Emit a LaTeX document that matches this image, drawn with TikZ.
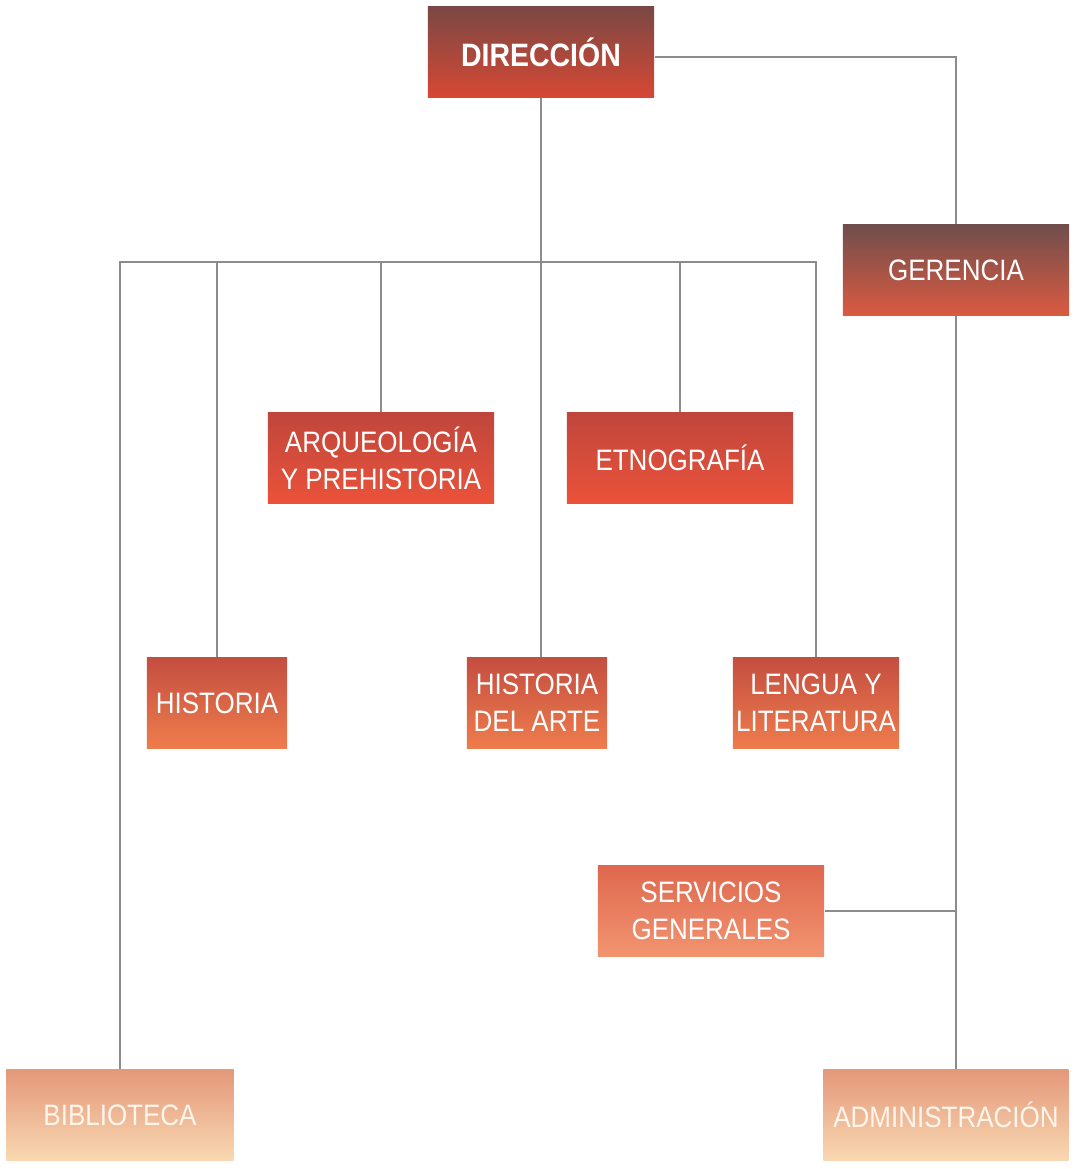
\documentclass[tikz,border=0pt]{standalone}
\usepackage{fontspec}
\setmainfont{Liberation Sans}[FakeStretch=0.88]
\usetikzlibrary{positioning}
\definecolor{dirtop}{RGB}{122,72,68}
\definecolor{dirbot}{RGB}{214,72,52}
\definecolor{gertop}{RGB}{112,78,76}
\definecolor{gerbot}{RGB}{218,90,66}
\definecolor{deptop}{RGB}{192,70,60}
\definecolor{depbot}{RGB}{234,82,58}
\definecolor{areatop}{RGB}{196,78,64}
\definecolor{areabot}{RGB}{238,124,76}
\definecolor{servtop}{RGB}{222,104,78}
\definecolor{servbot}{RGB}{242,148,112}
\definecolor{basetop}{RGB}{228,152,122}
\definecolor{basebot}{RGB}{248,216,178}
\definecolor{linkgray}{RGB}{140,140,140}
\tikzset{
  unit/.style={rectangle, inner sep=0pt, align=center, text=white,
    minimum height=0.9cm, font=\fontsize{8.4}{10.6}\selectfont},
  link/.style={draw=linkgray, line width=0.35pt}
}
\begin{document}
\begin{tikzpicture}[x=0.01cm, y=-0.01cm]
  \useasboundingbox (0,0) rectangle (1089,1169);
  % Top: direction and management
  \node[unit, minimum width=2.26cm, top color=dirtop, bottom color=dirbot,
    font=\fontsize{9.2}{11}\selectfont\bfseries] (dir) at (541,52) {DIRECCIÓN};
  \node[unit, minimum width=2.26cm, top color=gertop, bottom color=gerbot] (ger) at (956,270) {GERENCIA};
  % Departments
  \node[unit, minimum width=2.26cm, top color=deptop, bottom color=depbot] (arq) at (381,458) {ARQUEOLOGÍA\\Y PREHISTORIA};
  \node[unit, minimum width=2.26cm, top color=deptop, bottom color=depbot] (etn) at (680,458) {ETNOGRAFÍA};
  \node[unit, minimum width=1.40cm, top color=areatop, bottom color=areabot] (hist) at (217,703) {HISTORIA};
  \node[unit, minimum width=1.40cm, top color=areatop, bottom color=areabot] (hart) at (537,703) {HISTORIA\\DEL ARTE};
  \node[unit, minimum width=1.66cm, top color=areatop, bottom color=areabot] (len) at (816,703) {LENGUA Y\\LITERATURA};
  \node[unit, minimum width=2.26cm, top color=servtop, bottom color=servbot] (serv) at (711,911) {SERVICIOS\\GENERALES};
  % Bottom: library and administration
  \node[unit, minimum width=2.27cm, minimum height=0.91cm, top color=basetop, bottom color=basebot,
    text=white!92!orange] (bib) at (120,1115) {BIBLIOTECA};
  \node[unit, minimum width=2.45cm, minimum height=0.91cm, top color=basetop, bottom color=basebot,
    text=white!92!orange] (adm) at (946,1115) {ADMINISTRACIÓN};
  % Connectors
  \coordinate (bus) at (0,262);
  \draw[link] (dir.south) -- (dir.south |- hart.north);
  \draw[link] (bib.north) -- (bib.north |- bus) -- (len.north |- bus) -- (len.north);
  \foreach \n in {hist, arq, etn}
    \draw[link] (\n.north |- bus) -- (\n.north);
  \draw[link] ([yshift=-0.05cm]dir.east) -| (ger.north);
  \draw[link] (ger.south) -- (ger.south |- adm.north);
  \draw[link] (serv.east) -- (serv.east -| ger.south);
\end{tikzpicture}
\end{document}
